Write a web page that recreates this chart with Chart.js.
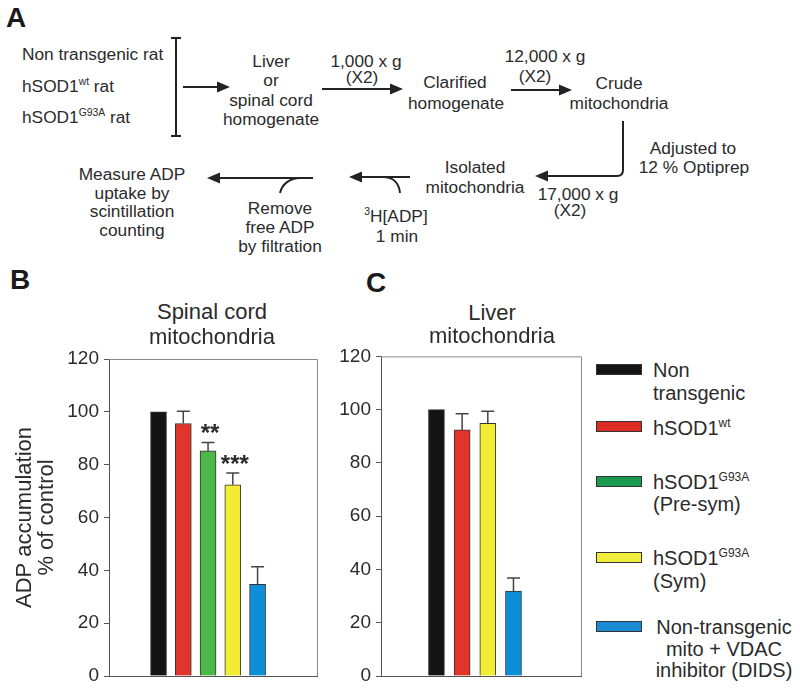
<!DOCTYPE html>
<html>
<head>
<meta charset="utf-8">
<script src="https://cdn.jsdelivr.net/npm/chart.js@4/dist/chart.umd.min.js"></script>
<style>
  body { margin: 0; background: #fff; }
  #page { position: relative; width: 800px; height: 694px; overflow: hidden;
          font-family: 'Liberation Sans', Arial, sans-serif; color: #2b2b2b; }
  .t { position: absolute; white-space: nowrap; line-height: 1; transform: translate(-50%, -50%); }
  .l { transform: translate(0, -50%); }
  .a { font-size: 17.3px; }
  .lg { font-size: 20px; }
  .ttl { font-size: 22px; }
  .panel { font-size: 28px; font-weight: bold; color: #1a1a1a; }
  sup { font-size: 0.6em; vertical-align: baseline; position: relative; top: -0.65em; line-height: 0; }
  canvas { position: absolute; }
  .sw { position: absolute; width: 44px; height: 9px; border: 1px solid #333; }
</style>
</head>
<body>
<div id="page">
  <svg id="flow" width="800" height="260" style="position:absolute;left:0;top:0"></svg>
  <canvas id="spinal" width="330" height="360" style="left:0;top:340px"></canvas>
  <canvas id="liver" width="270" height="360" style="left:330px;top:340px"></canvas>
</div>
<script>
// group order shared by both panels
const groups = ['Non transgenic', 'hSOD1 wt', 'hSOD1 G93A (Pre-sym)', 'hSOD1 G93A (Sym)', 'Non-transgenic mito + VDAC inhibitor (DIDS)'];
const barColors = ['#141414', '#e1352c', '#4cb848', '#f3ec35', '#0b8fd9'];
const legendColors = ['#151515', '#dc2b25', '#1a9a4c', '#f2ec3a', '#1d8ad6'];

// panel B - spinal cord mitochondria (% of control)
const spinalMean = [100, 95.6, 85.2, 72.4, 34.7];
const spinalErr = [0, 4.6, 3.2, 4.4, 6.7];
const spinalStars = ['', '', '**', '***', ''];

// panel C - liver mitochondria (no pre-symptomatic group)
const liverMean = [100, 92.4, null, 94.9, 31.9];
const liverErr = [0, 6.1, null, 4.5, 4.9];

const yTicks = [0, 20, 40, 60, 80, 100, 120];

Chart.defaults.font.family = "'Liberation Sans', Arial, sans-serif";

const page = document.getElementById('page');

// place a piece of real text, centred on (cx, cy) unless left aligned
function text(html, x, y, cls) {
    const d = document.createElement('div');
    d.className = 't ' + cls;
    d.style.left = x + 'px';
    d.style.top = y + 'px';
    d.innerHTML = html;
    page.appendChild(d);
}

// ---- Panel A: the workflow sketch ----
text('A', 6, 18, 'panel l');
text('Non transgenic rat', 22, 55, 'a l');
text('hSOD1<sup>wt</sup> rat', 22, 87, 'a l');
text('hSOD1<sup>G93A</sup> rat', 22, 118, 'a l');
['Liver', 'or', 'spinal cord', 'homogenate'].forEach((s, i) => text(s, 271, 62 + i * 19.3, 'a'));
text('1,000 x g', 366, 62, 'a');
text('(X2)', 362, 78, 'a');
text('Clarified', 455, 83, 'a');
text('homogenate', 456, 104, 'a');
text('12,000 x g', 545, 57, 'a');
text('(X2)', 535, 77, 'a');
text('Crude', 619, 84, 'a');
text('mitochondria', 619, 104, 'a');
text('Adjusted to', 693, 149, 'a');
text('12 % Optiprep', 694, 168, 'a');
text('17,000 x g', 578, 195, 'a');
text('(X2)', 570, 211, 'a');
text('Isolated', 475, 168, 'a');
text('mitochondria', 475, 188, 'a');
text('<sup>3</sup>H[ADP]', 396, 217, 'a');
text('1 min', 397, 237, 'a');
['Remove', 'free ADP', 'by filtration'].forEach((s, i) => text(s, 280, 209 + i * 19, 'a'));
['Measure ADP', 'uptake by', 'scintillation', 'counting'].forEach((s, i) => text(s, 132, 175 + i * 18.5, 'a'));

// arrows and bracket
const svgNS = 'http://www.w3.org/2000/svg';
const flow = document.getElementById('flow');
function svgEl(tag, attrs) {
    const e = document.createElementNS(svgNS, tag);
    Object.keys(attrs).forEach(k => e.setAttribute(k, attrs[k]));
    flow.appendChild(e);
}
function head(tx, ty, dir) {
    const b = tx - dir * 13;
    svgEl('polygon', { points: `${tx},${ty} ${b},${ty - 5.5} ${b},${ty + 5.5}`, fill: '#222' });
}
const stroke = { stroke: '#222', 'stroke-width': 2, fill: 'none' };
svgEl('path', Object.assign({ d: 'M176,38 V136 M171,38 H181 M171,136 H181' }, stroke));
svgEl('path', Object.assign({ d: 'M183,87 H220' }, stroke)); head(230, 87, 1);
svgEl('path', Object.assign({ d: 'M322,89 H393' }, stroke)); head(403, 89, 1);
svgEl('path', Object.assign({ d: 'M511,90 H562' }, stroke)); head(572, 90, 1);
svgEl('path', Object.assign({ d: 'M623,121 V170 Q623,176 617,176 H545' }, stroke)); head(535, 176, -1);
svgEl('path', Object.assign({ d: 'M410,177 H359 M383,177 C393,177 399,183 400,193' }, stroke)); head(349, 177, -1);
svgEl('path', Object.assign({ d: 'M313,178 H217 M300,178 C290,178 282,184 280,193' }, stroke)); head(207, 178, -1);

// ---- Panels B and C: titles, letters, legend ----
text('B', 10, 280, 'panel l');
text('C', 366, 283, 'panel l');
text('Spinal cord', 212, 312, 'ttl');
text('mitochondria', 212, 337, 'ttl');
text('Liver', 492, 313, 'ttl');
text('mitochondria', 492, 336, 'ttl');

const swatchTops = [364, 421, 476, 552, 621];
swatchTops.forEach((top, i) => {
    const s = document.createElement('div');
    s.className = 'sw';
    s.style.left = '596px';
    s.style.top = top + 'px';
    s.style.background = legendColors[i];
    page.appendChild(s);
});
text('Non', 653, 370, 'lg l');
text('transgenic', 653, 393, 'lg l');
text('hSOD1<sup>wt</sup>', 653, 428, 'lg l');
text('hSOD1<sup>G93A</sup>', 653, 482, 'lg l');
text('(Pre-sym)', 653, 504, 'lg l');
text('hSOD1<sup>G93A</sup>', 653, 558, 'lg l');
text('(Sym)', 653, 581, 'lg l');
text('Non-transgenic', 724, 627, 'lg');
text('mito + VDAC', 724, 649, 'lg');
text('inhibitor (DIDS)', 724, 670, 'lg');

// ---- charts ----
// top and right edges of the frame
const boxPlugin = {
    id: 'box',
    afterDraw(chart) {
        const { ctx, chartArea: a } = chart;
        ctx.save();
        ctx.strokeStyle = '#8a8a8a';
        ctx.lineWidth = 1;
        ctx.beginPath();
        ctx.moveTo(a.left, a.top + 0.5);
        ctx.lineTo(a.right + 0.5, a.top + 0.5);
        ctx.lineTo(a.right + 0.5, a.bottom);
        ctx.stroke();
        ctx.restore();
    }
};

// upper error bars and significance stars
const errorPlugin = {
    id: 'errors',
    afterDatasetsDraw(chart) {
        const { ctx } = chart;
        const ds = chart.data.datasets[0];
        const y = chart.scales.y;
        ctx.save();
        chart.getDatasetMeta(0).data.forEach((bar, i) => {
            const err = ds.errors[i];
            const top = y.getPixelForValue(ds.data[i].y + err);
            if (err > 0) {
                ctx.strokeStyle = '#444';
                ctx.lineWidth = 1.5;
                ctx.beginPath();
                ctx.moveTo(bar.x, bar.y);
                ctx.lineTo(bar.x, top);
                ctx.moveTo(bar.x - 6.5, top);
                ctx.lineTo(bar.x + 6.5, top);
                ctx.stroke();
            }
            if (ds.stars[i]) {
                ctx.fillStyle = '#2b2b2b';
                ctx.font = "bold 24px 'Liberation Sans', Arial, sans-serif";
                ctx.textAlign = 'center';
                ctx.textBaseline = 'alphabetic';
                ctx.fillText(ds.stars[i], bar.x + 2, top - 1);
            }
        });
        ctx.restore();
    }
};

function barChart(id, means, errs, stars, xRange, yWidth, pad, yTitle) {
    const pts = [], idx = [];
    means.forEach((v, i) => {
        if (v !== null) { pts.push({ x: pts.length + 1, y: v }); idx.push(i); }
    });
    return new Chart(document.getElementById(id), {
        type: 'bar',
        data: {
            datasets: [{
                label: 'ADP accumulation',
                data: pts,
                backgroundColor: idx.map(i => barColors[i]),
                borderColor: '#333',
                borderWidth: 1,
                barThickness: 16,
                errors: idx.map(i => errs[i]),
                stars: idx.map(i => stars ? stars[i] : '')
            }]
        },
        options: {
            responsive: false,
            animation: false,
            layout: { padding: pad },
            plugins: { legend: { display: false }, tooltip: { enabled: false } },
            scales: {
                x: {
                    type: 'linear',
                    offset: false,
                    min: xRange[0],
                    max: xRange[1],
                    ticks: { display: false },
                    grid: { display: false },
                    border: { display: true, color: '#555' }
                },
                y: {
                    min: 0,
                    max: 120,
                    afterBuildTicks: s => { s.ticks = yTicks.map(v => ({ value: v })); },
                    afterFit: s => { s.width = yWidth; },
                    ticks: { color: '#2b2b2b', font: { size: 19 }, padding: 5 },
                    grid: { drawOnChartArea: false, tickLength: 5, color: '#555' },
                    border: { color: '#555' },
                    title: yTitle
                        ? { display: true, text: yTitle, color: '#2b2b2b', font: { size: 22, lineHeight: 1 }, padding: { top: 14 } }
                        : { display: false }
                }
            }
        },
        plugins: [boxPlugin, errorPlugin]
    });
}

barChart('spinal', spinalMean, spinalErr, spinalStars, [-1, 7.4], 109,
    { top: 19, right: 13, bottom: 16, left: 0 }, ['ADP accumulation', '% of control']);
barChart('liver', liverMean, liverErr, null, [-1.16, 6.63], 51,
    { top: 15, right: 19, bottom: 16, left: 0 }, null);
</script>
</body>
</html>
